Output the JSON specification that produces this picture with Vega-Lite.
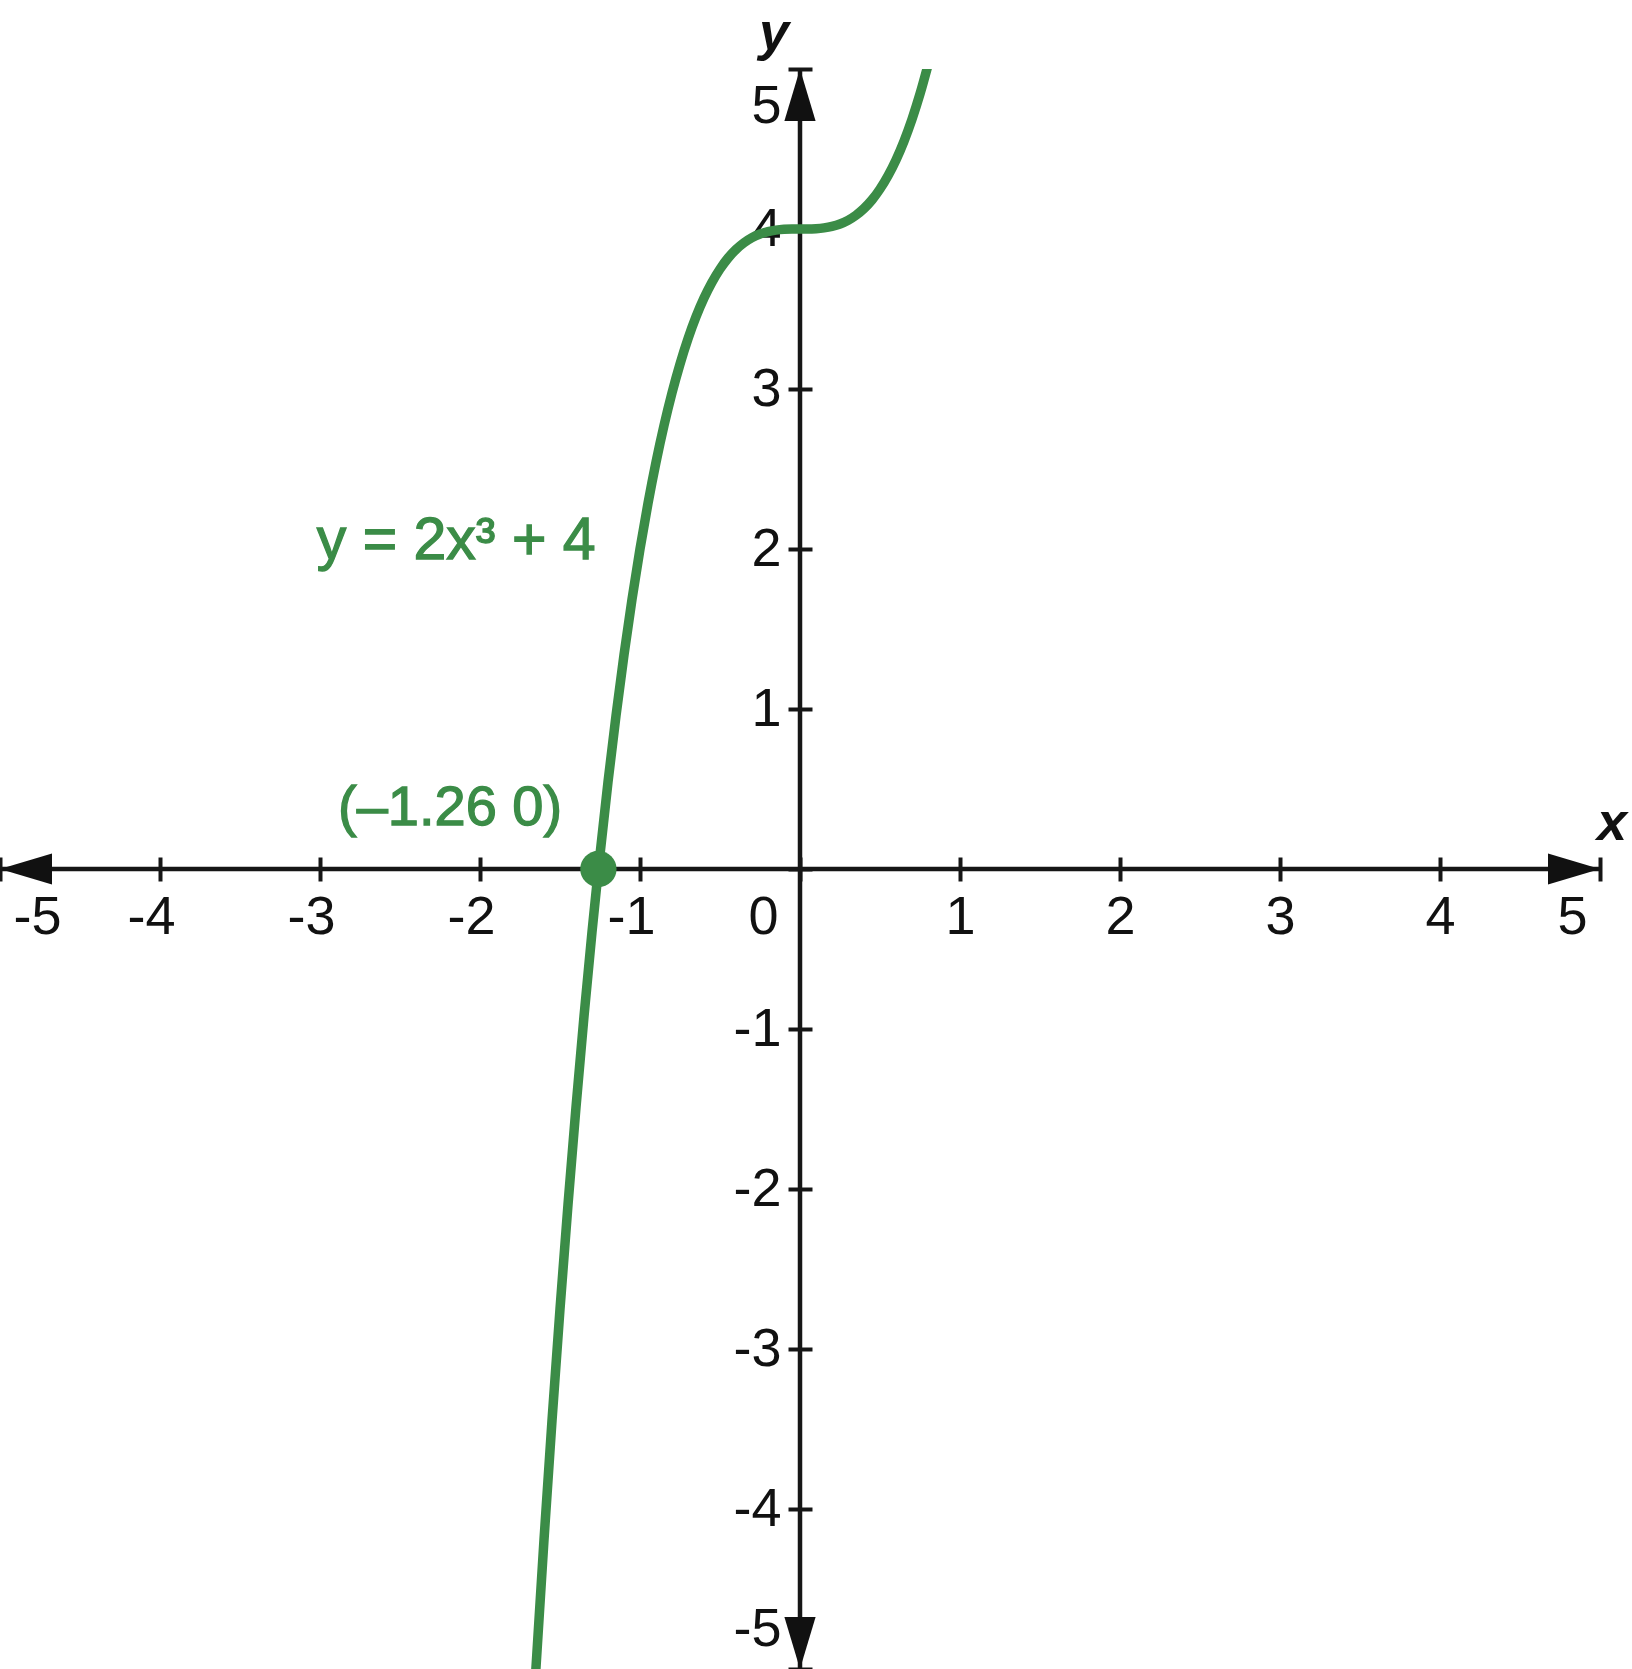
{
  "$schema": "https://vega.github.io/schema/vega-lite/v6.json",
  "width": 1600,
  "height": 1600,
  "autosize": "none",
  "padding": {"left": 0, "top": 69, "right": 32, "bottom": 0},
  "background": "white",
  "config": {"view": {"stroke": null}},
  "layer": [
    {
      "data": {"values": [{"x": -5, "x2": 5, "y": 0, "y2": 0}, {"x": 0, "x2": 0, "y": -5, "y2": 5}]},
      "mark": {"type": "rule", "strokeWidth": 4.5, "color": "#161616"},
      "encoding": {
        "x": {"field": "x", "type": "quantitative",
          "scale": {"domain": [-5, 5], "nice": false, "zero": false},
          "axis": {"title": null, "values": [-5, -4, -3, -2, -1, 0, 1, 2, 3, 4, 5], "grid": false, "domain": false,
            "orient": "bottom", "offset": -812, "tickSize": 24, "tickWidth": 4, "tickColor": "#161616",
            "labelFont": "Liberation Sans", "labelFontSize": 54, "labelColor": "#111111", "labelPadding": 9,
            "labelFlush": false, "labelOverlap": false, "labelBound": false,
            "labelExpr": "'' + datum.value",
            "labelOffset": {"condition": [{"test": "datum.value == -5", "value": 37}, {"test": "datum.value == 5", "value": -28}, {"test": "datum.value == 0", "value": -37}, {"test": "datum.value < 0", "value": -9}], "value": 0}
          }},
        "x2": {"field": "x2"},
        "y": {"field": "y", "type": "quantitative",
          "scale": {"domain": [-5, 5], "nice": false, "zero": false},
          "axis": {"title": null, "values": [-5, -4, -3, -2, -1, 0, 1, 2, 3, 4, 5], "grid": false, "domain": false,
            "orient": "left", "offset": -812, "tickSize": 24, "tickWidth": 4, "tickColor": "#161616",
            "labelFont": "Liberation Sans", "labelFontSize": 54, "labelColor": "#111111", "labelPadding": 7,
            "labelFlush": false, "labelOverlap": false, "labelBound": false,
            "labelExpr": "datum.value == 0 ? '' : '' + datum.value",
            "labelOffset": {"condition": [{"test": "datum.value == 5", "value": 37}, {"test": "datum.value == -5", "value": -40}], "value": 0}
          }},
        "y2": {"field": "y2"}
      }
    },
    {
      "data": {"values": [
        {"x": -1.66, "y": -5.149}, {"x": -1.6, "y": -4.192}, {"x": -1.55, "y": -3.448}, {"x": -1.5, "y": -2.75},
        {"x": -1.45, "y": -2.097}, {"x": -1.4, "y": -1.488}, {"x": -1.35, "y": -0.921}, {"x": -1.3, "y": -0.394},
        {"x": -1.26, "y": 0.0}, {"x": -1.2, "y": 0.544}, {"x": -1.15, "y": 0.958}, {"x": -1.1, "y": 1.338},
        {"x": -1.05, "y": 1.685}, {"x": -1.0, "y": 2.0}, {"x": -0.95, "y": 2.285}, {"x": -0.9, "y": 2.542},
        {"x": -0.85, "y": 2.772}, {"x": -0.8, "y": 2.976}, {"x": -0.75, "y": 3.156}, {"x": -0.7, "y": 3.314},
        {"x": -0.65, "y": 3.451}, {"x": -0.6, "y": 3.568}, {"x": -0.55, "y": 3.667}, {"x": -0.5, "y": 3.75},
        {"x": -0.45, "y": 3.818}, {"x": -0.4, "y": 3.872}, {"x": -0.35, "y": 3.914}, {"x": -0.3, "y": 3.946},
        {"x": -0.25, "y": 3.969}, {"x": -0.2, "y": 3.984}, {"x": -0.15, "y": 3.993}, {"x": -0.1, "y": 3.998},
        {"x": -0.05, "y": 4.0}, {"x": 0.0, "y": 4.0}, {"x": 0.05, "y": 4.0}, {"x": 0.1, "y": 4.002},
        {"x": 0.15, "y": 4.007}, {"x": 0.2, "y": 4.016}, {"x": 0.25, "y": 4.031}, {"x": 0.3, "y": 4.054},
        {"x": 0.35, "y": 4.086}, {"x": 0.4, "y": 4.128}, {"x": 0.45, "y": 4.182}, {"x": 0.5, "y": 4.25},
        {"x": 0.55, "y": 4.333}, {"x": 0.6, "y": 4.432}, {"x": 0.65, "y": 4.549}, {"x": 0.7, "y": 4.686},
        {"x": 0.75, "y": 4.844}, {"x": 0.8, "y": 5.024}
      ]},
      "mark": {"type": "line", "color": "#3b8c47", "strokeWidth": 9.5, "clip": true, "interpolate": "monotone"},
      "encoding": {
        "x": {"field": "x", "type": "quantitative"},
        "y": {"field": "y", "type": "quantitative"}
      }
    },
    {
      "data": {"values": [{"x": -1.26, "y": 0}]},
      "mark": {"type": "point", "filled": true, "shape": "circle", "size": 1320, "color": "#3b8c47", "opacity": 1},
      "encoding": {
        "x": {"field": "x", "type": "quantitative"},
        "y": {"field": "y", "type": "quantitative"}
      }
    },
    {
      "data": {"values": [
        {"x": 5, "y": 0, "dir": "right"}, {"x": -5, "y": 0, "dir": "left"},
        {"x": 0, "y": 5, "dir": "up"}, {"x": 0, "y": -5, "dir": "down"}
      ]},
      "mark": {"type": "point", "filled": true, "size": 2704, "color": "#111111", "opacity": 1},
      "encoding": {
        "x": {"field": "x", "type": "quantitative"},
        "y": {"field": "y", "type": "quantitative"},
        "shape": {"field": "dir", "type": "nominal", "legend": null,
          "scale": {"domain": ["right", "left", "up", "down"],
            "range": ["M0,0L-2,-0.6L-2,0.6Z", "M0,0L2,-0.6L2,0.6Z", "M0,0L-0.6,2L0.6,2Z", "M0,0L-0.6,-2L0.6,-2Z"]}}
      }
    },
    {
      "data": {"values": [
        {"x": -3.02, "y": 1.94, "label": "y = 2x³ + 4"}
      ]},
      "mark": {"type": "text", "align": "left", "baseline": "alphabetic", "font": "Liberation Sans", "fontSize": 59, "color": "#3b8c47", "stroke": "#3b8c47", "strokeWidth": 1.3},
      "encoding": {
        "x": {"field": "x", "type": "quantitative"},
        "y": {"field": "y", "type": "quantitative"},
        "text": {"field": "label"}
      }
    },
    {
      "data": {"values": [
        {"x": -2.8875, "y": 0.275, "label": "(–1.26 0)"}
      ]},
      "mark": {"type": "text", "align": "left", "baseline": "alphabetic", "font": "Liberation Sans", "fontSize": 56, "color": "#3b8c47", "stroke": "#3b8c47", "strokeWidth": 1.3},
      "encoding": {
        "x": {"field": "x", "type": "quantitative"},
        "y": {"field": "y", "type": "quantitative"},
        "text": {"field": "label"}
      }
    },
    {
      "data": {"values": [
        {"x": 5.075, "y": 0.18, "label": "x"},
        {"x": -0.1625, "y": 5.119, "label": "y"}
      ]},
      "mark": {"type": "text", "align": "center", "baseline": "alphabetic", "font": "Liberation Sans", "fontSize": 54, "fontStyle": "italic", "fontWeight": "bold", "color": "#111111"},
      "encoding": {
        "x": {"field": "x", "type": "quantitative"},
        "y": {"field": "y", "type": "quantitative"},
        "text": {"field": "label"}
      }
    }
  ]
}
